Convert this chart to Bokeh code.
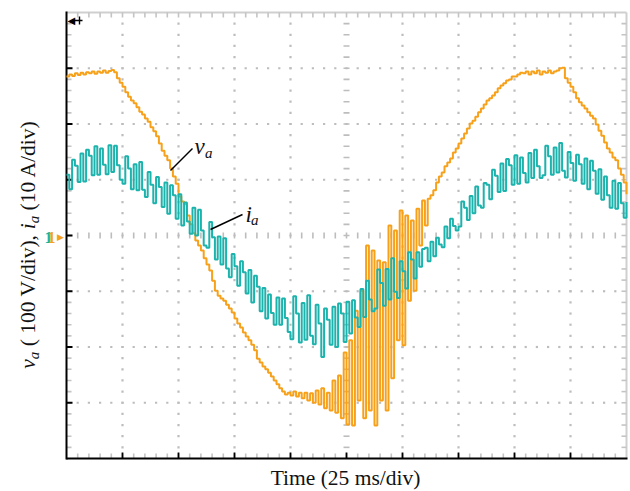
import numpy as np
from bokeh.plotting import figure
from bokeh.models import Range1d, Label
from bokeh.embed import file_html
from bokeh.resources import INLINE

# ---------------- data ----------------
dt_ms = 1.25  # sample interval, ms

# phase voltage v_a (V), 100 V/div
va = [285, 289, 286, 291, 288, 292, 289, 293, 291, 294, 290, 294, 292, 296, 292, 295, 297, 293,
      282, 274, 267, 257, 249, 242, 237, 230, 222, 217, 210, 204,
      194, 187, 178, 165, 152, 143, 135, 120, 106, 93,
      70, 61, 56, 36, 20, 4, -9, -18, -27, -41,
      -52, -63, -81, -99, -108, -113, -117, -124, -131, -138,
      -149, -158, -165, -174, -181, -188, -196, -206, -221, -228,
      -235, -240, -246, -253, -260, -267, -274, -280, -285, -282,
      -287, -280, -289, -282, -292, -282, -296, -283, -300, -278,
      -303, -274, -310, -282, -314, -260, -318, -251, -328, -210,
      -339, -188, -341, -135, -296, -99, -328, -18, -314, -27,
      -341, -45, -296, -48, -314, 18, -256, 9, -188, 45,
      -197, 36, -117, 27, -99, 48, -18, 63, 18, 66,
      72, 81, 95, 106, 113, 124, 131, 138, 149, 156,
      165, 174, 183, 192, 201, 206, 213, 221, 228, 235,
      242, 246, 251, 257, 264, 269, 273, 278, 280, 285,
      285, 289, 292, 291, 294, 289, 294, 291, 296, 289,
      294, 292, 296, 291, 294, 296, 300, 301, 282, 274,
      267, 257, 246, 239, 233, 228, 221, 215, 210, 199,
      188, 179, 167, 156, 149, 140, 135, 120, 109, 95, 74]

# phase current i_a (A), 10 A/div
ia = [10.9, 8.3, 13.6, 12.5, 9.6, 14.7, 9.7, 15.4, 14.3, 10.8,
      16.0, 10.9, 15.6, 12.7, 11.0, 16.2, 11.4, 16.1, 12.6, 10.0,
      9.3, 14.2, 12.0, 8.3, 12.8, 8.1, 13.2, 8.2, 6.9, 11.4,
      9.1, 5.8, 10.5, 8.7, 5.1, 9.5, 3.9, 9.0, 7.2, 3.0,
      7.4, 1.8, 5.9, 2.5, 0.3, 5.0, 0.0, 4.6, 0.9, -1.8,
      -2.2, 2.4, -0.3, -4.3, -0.2, -5.2, -0.5, -5.9, -7.5, -3.3,
      -5.5, -9.0, -4.6, -6.6, -10.4, -6.2, -12.0, -7.2, -9.2, -13.6,
      -9.4, -14.9, -10.6, -13.9, -16.0, -11.1, -16.0, -11.3, -14.8, -17.3,
      -18.6, -10.9, -14.0, -19.2, -12.1, -18.7, -10.7, -18.0, -19.5, -12.4,
      -15.8, -21.8, -13.1, -15.1, -19.6, -12.8, -20.0, -12.2, -14.0, -19.1,
      -11.9, -17.6, -11.6, -14.7, -16.4, -9.6, -14.6, -8.1, -11.5, -13.6,
      -13.1, -6.1, -8.5, -12.6, -6.0, -11.5, -4.1, -10.1, -11.2, -4.6,
      -6.4, -9.5, -3.0, -4.3, -7.7, -3.0, -5.6, -2.4, -2.2, -4.6,
      -1.1, -3.7, -0.4, -1.6, -2.1, 1.6, -0.5, 3.0, 1.7, 0.9,
      1.6, 6.1, 5.0, 2.8, 7.1, 4.0, 8.8, 5.4, 5.0, 9.4,
      9.1, 6.5, 11.8, 10.7, 7.8, 12.9, 8.0, 13.7, 12.6, 9.1,
      14.4, 9.3, 14.0, 11.2, 9.5, 14.8, 10.3, 15.4, 12.4, 10.3,
      10.8, 16.1, 14.2, 10.9, 15.8, 11.3, 16.6, 11.6, 10.4, 15.0,
      13.0, 9.8, 14.5, 12.8, 9.3, 13.8, 8.3, 13.4, 11.6, 7.5,
      11.9, 6.4, 10.6, 7.2, 5.0, 9.8, 4.8, 9.4, 5.8, 3.2,
      6.0]

t = [round(i * dt_ms, 3) for i in range(len(va))]

T_DIV, V_DIV, I_DIV = 25.0, 100.0, 10.0
NX, NY = 10, 8
XMAX = T_DIV * NX
YMAX = V_DIV * NY / 2

ORANGE = "#F7A11A"
TEAL = "#1BB3AC"
GRID = "#bdbdbd"
TICKG = "#c4c4c4"
SERIF = "Liberation Serif"

# screen geometry of the graticule box (pixels)
L, R, TOP, BOT = 66, 626, 12, 458
W, H = 630, 491
sx = (R - L) / XMAX
sy = (BOT - TOP) / (2 * YMAX)
cy = (TOP + BOT) / 2


def X(px):
    return (px - L) / sx


def Y(py):
    return (cy - py) / sy


k_i = I_DIV / V_DIV
p = figure(width=W, height=H, x_range=Range1d(X(0), X(W)), y_range=Range1d(Y(H), Y(0)),
           x_axis_location=None, y_axis_location=None, toolbar_location=None,
           output_backend="svg", min_border=0, min_border_left=0, min_border_right=0,
           min_border_top=0, min_border_bottom=0)
p.extra_y_ranges = {"ia": Range1d(Y(H) * k_i, Y(0) * k_i)}
p.outline_line_color = None
p.grid.visible = False
p.background_fill_color = "white"
p.border_fill_color = "white"

# ---------------- graticule ----------------
minor_x = np.arange(0, XMAX + 1e-6, T_DIV / 5)
minor_y = np.arange(-YMAX, YMAX + 1e-6, V_DIV / 5)
major_x = [T_DIV * k for k in range(1, NX) if k != NX // 2]
major_y = [V_DIV * k for k in range(-NY // 2 + 1, NY // 2) if k != 0]
mxs = list(minor_x[1:-1])
mys = list(minor_y[1:-1])

dx_, dy_ = [], []
for mx in major_x:
    for my in mys:
        dx_.append(mx); dy_.append(my)
for my in major_y:
    for mx in mxs:
        dx_.append(mx); dy_.append(my)
p.scatter(dx_, dy_, marker="square", size=2.2, color=GRID, line_color=None)

# center cross made of small ticks
hx = 3 / sx
hy = 3 / sy
p.segment(x0=mxs, y0=[-hy] * len(mxs), x1=mxs, y1=[hy] * len(mxs), line_color=GRID, line_width=1.6)
p.segment(x0=[XMAX / 2 - hx] * len(mys), y0=mys, x1=[XMAX / 2 + hx] * len(mys), y1=mys,
          line_color=GRID, line_width=1.6)

# frame: top/right light gray, left/bottom black
p.segment(x0=[0, XMAX], y0=[YMAX, -YMAX], x1=[XMAX, XMAX], y1=[YMAX, YMAX],
          line_color="#cfcfcf", line_width=2)

tl_x = 5 / sx
tl_y = 5 / sy
p.segment(x0=mxs, y0=[YMAX] * len(mxs), x1=mxs, y1=[YMAX - tl_y] * len(mxs), line_color=TICKG, line_width=1.6)
p.segment(x0=[XMAX] * len(mys), y0=mys, x1=[XMAX - tl_x] * len(mys), y1=mys, line_color=TICKG, line_width=1.6)
p.segment(x0=[0] * len(mys), y0=mys, x1=[tl_x] * len(mys), y1=mys, line_color=TICKG, line_width=1.6)
p.segment(x0=mxs, y0=[-YMAX] * len(mxs), x1=mxs, y1=[-YMAX + tl_y] * len(mxs), line_color=TICKG, line_width=1.6)

majy_all = [V_DIV * k for k in range(-NY // 2 + 1, NY // 2)]
majx_all = [T_DIV * k for k in range(1, NX)]
p.segment(x0=[0] * len(majy_all), y0=majy_all, x1=[6 / sx] * len(majy_all), y1=majy_all,
          line_color="black", line_width=1.8)
p.segment(x0=majx_all, y0=[-YMAX] * len(majx_all), x1=majx_all, y1=[-YMAX + 6 / sy] * len(majx_all),
          line_color="black", line_width=1.8)

p.segment(x0=[0, 0], y0=[-YMAX - 1 / sy, -YMAX], x1=[0, XMAX + 1 / sx], y1=[YMAX + 1 / sy, -YMAX],
          line_color="black", line_width=2)

# ---------------- waveforms ----------------
p.step(t, va, mode="after", line_color=ORANGE, line_width=2)
p.step(t, ia, mode="after", line_color=TEAL, line_width=2, y_range_name="ia")


# ---------------- annotations ----------------
def lab(x, y, text, size="21.5px", style="normal", color="#111111", align="left",
        angle=0.0, font=SERIF):
    p.add_layout(Label(x=x, y=y, text=text, text_font=font, text_font_size=size,
                       text_font_style=style, text_color=color, text_align=align,
                       text_baseline="middle", angle=angle))


# curve labels with leader lines (positions are text centre lines)
lab(X(194), Y(145.5), "v", size="23px", style="italic")
lab(X(204.5), Y(152.5), "a", size="15px", style="italic")
p.segment(x0=[X(170)], y0=[Y(170)], x1=[X(192)], y1=[Y(148)], line_color="black", line_width=1.4)
lab(X(245), Y(213.5), "i", size="23px", style="italic")
lab(X(250.5), Y(219.5), "a", size="15px", style="italic")
p.segment(x0=[X(210)], y0=[Y(229)], x1=[X(242)], y1=[Y(214)], line_color="black", line_width=1.4)

# x-axis title
lab(X(345), Y(477.5), "Time (25 ms/div)", align="center")

# y-axis title (rotated, built from pieces)
ang = np.pi / 2
xb = X(27)
xs = X(33)
lab(xb, Y(368.2), "v", style="italic", angle=ang)
lab(xs, Y(358.7), "a", size="15px", style="italic", angle=ang)
lab(xb, Y(345.8), "( 100 V/div),", angle=ang)
lab(xb, Y(228.8), "i", style="italic", angle=ang)
lab(xs, Y(222.8), "a", size="15px", style="italic", angle=ang)
lab(xb, Y(209.9), "(10 A/div)", angle=ang)

# channel markers at the left
lab(X(44), Y(237), "1", size="16px", style="bold", color=TEAL)
lab(X(47), Y(237), "1", size="16px", style="bold", color=ORANGE)
lab(X(56.5), Y(236), "\u25B6", size="9px", color=ORANGE, font="DejaVu Sans")

# trigger marker at top-left
lab(X(67), Y(20), "\u25C0", size="10px", color="black", font="DejaVu Sans")
p.segment(x0=[X(72)], y0=[Y(20)], x1=[X(82)], y1=[Y(20)], line_color="black", line_width=1.6)
p.segment(x0=[X(79)], y0=[Y(16)], x1=[X(79)], y1=[Y(24)], line_color="black", line_width=1.4)

open("out.html", "w").write(file_html(p, INLINE))
